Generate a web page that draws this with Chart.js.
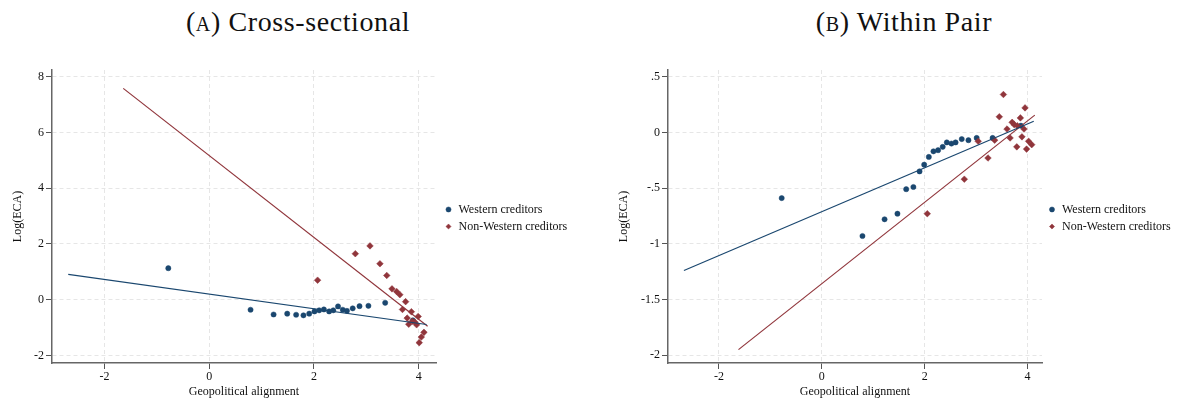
<!DOCTYPE html>
<html>
<head>
<meta charset="utf-8">
<script src="https://cdn.jsdelivr.net/npm/chart.js@4.4.1/dist/chart.umd.min.js"></script>
<style>
  body { margin: 0; background: #fff; width: 1178px; height: 400px; overflow: hidden; position: relative; font-family: "Liberation Serif", serif; }
  .panel { position: absolute; top: 0; width: 589px; height: 400px; }
  .panel canvas { position: absolute; left: 0; top: 0; }
  .title { position: absolute; top: 8px; font-size: 28px; line-height: 28px; letter-spacing: 0.6px; color: #111; white-space: nowrap; transform: translateX(-50%); }
  .sc { font-variant: small-caps; }
</style>
</head>
<body>
<div class="panel" style="left:0">
  <div class="title" style="left:298px">(<span class="sc">a</span>) Cross-sectional</div>
  <canvas id="chartA" width="589" height="400"></canvas>
</div>
<div class="panel" style="left:589px">
  <div class="title" style="left:315px">(<span class="sc">b</span>) Within Pair</div>
  <canvas id="chartB" width="589" height="400"></canvas>
</div>
<script>
// ---- data ----
const seriesNames = ['Western creditors', 'Non-Western creditors'];
const xTicks = [-2, 0, 2, 4];

// (A) Cross-sectional
const westAlignA = [-0.78, 0.79, 1.23, 1.49, 1.66, 1.80, 1.91, 2.01, 2.10, 2.19, 2.29, 2.37, 2.46, 2.55, 2.63, 2.74, 2.87, 3.04, 3.36, 3.89];
const westEcaA   = [1.13, -0.36, -0.53, -0.50, -0.54, -0.56, -0.50, -0.42, -0.38, -0.35, -0.42, -0.38, -0.24, -0.36, -0.40, -0.31, -0.23, -0.22, -0.11, -0.74];
const nonAlignA  = [2.07, 2.79, 3.07, 3.26, 3.39, 3.49, 3.58, 3.64, 3.69, 3.75, 3.78, 3.81, 3.86, 3.88, 3.93, 3.96, 3.99, 4.01, 4.05, 4.10];
const nonEcaA    = [0.70, 1.65, 1.93, 1.29, 0.87, 0.39, 0.29, 0.18, -0.35, -0.07, -0.66, -0.88, -0.43, -0.77, -0.81, -0.90, -0.60, -1.54, -1.34, -1.17];
const westFitXA = [-2.69, 4.15], westFitYA = [0.91, -0.89];
const nonFitXA  = [-1.64, 4.17], nonFitYA  = [7.58, -0.95];
const yTicksA = [-2, 0, 2, 4, 6, 8];

// (B) Within pair
const westAlignB = [-0.78, 0.79, 1.22, 1.47, 1.64, 1.78, 1.90, 1.99, 2.08, 2.17, 2.26, 2.35, 2.43, 2.52, 2.60, 2.72, 2.85, 3.01, 3.32, 3.87];
const westEcaB   = [-0.59, -0.93, -0.78, -0.73, -0.51, -0.49, -0.35, -0.29, -0.22, -0.17, -0.16, -0.13, -0.09, -0.10, -0.09, -0.06, -0.07, -0.05, -0.05, 0.06];
const nonAlignB  = [2.05, 2.77, 3.04, 3.23, 3.36, 3.45, 3.53, 3.60, 3.66, 3.70, 3.74, 3.79, 3.80, 3.86, 3.89, 3.93, 3.95, 3.98, 4.02, 4.08];
const nonEcaB    = [-0.73, -0.42, -0.08, -0.23, -0.07, 0.14, 0.34, 0.03, -0.05, 0.09, 0.07, -0.13, 0.06, 0.13, -0.04, 0.03, 0.22, -0.15, -0.08, -0.11];
const westFitXB = [-2.68, 4.12], westFitYB = [-1.24, 0.10];
const nonFitXB  = [-1.62, 4.14], nonFitYB  = [-1.95, 0.155];
const yTicksB = [-2, -1.5, -1, -0.5, 0, 0.5];

const NAVY = '#1a476f';
const MAROON = '#90353b';
const serif = '"Liberation Serif", "Times New Roman", serif';

function toPoints(xs, ys) {
    return xs.map((x, i) => ({ x: x, y: ys[i] }));
}

// Stata style tick labels: .5, -.5
function stataNum(v) {
    return String(v).replace('0.', '.');
}

// nudge the legend box so it sits where Stata puts it
const legendNudge = {
    id: 'legendNudge',
    afterLayout(chart, args, opts) {
        const lg = chart.legend;
        if (!lg) return;
        lg.left += opts.dx; lg.right += opts.dx;
        lg.top += opts.dy; lg.bottom += opts.dy;
    }
};

function renderPanel(canvasId, p) {
    const ctx = document.getElementById(canvasId).getContext('2d');
    const gridOpts = {
        color: '#e6e6e6',
        tickColor: '#555',
        tickBorderDash: [],
        tickLength: 6,
        tickWidth: 1
    };
    const borderOpts = { display: true, color: '#666', width: 1.5, dash: [4, 3] };
    new Chart(ctx, {
        type: 'scatter',
        data: {
            datasets: [
                { label: seriesNames[0], data: toPoints(p.westX, p.westY), backgroundColor: NAVY, borderColor: NAVY,
                  pointStyle: 'circle', pointRadius: 2.6, borderWidth: 0.5, order: 2 },
                { label: seriesNames[1], data: toPoints(p.nonX, p.nonY), backgroundColor: MAROON, borderColor: MAROON,
                  pointStyle: 'rectRot', pointRadius: 3.3, borderWidth: 0.5, order: 1 },
                { label: 'fitWest', data: toPoints(p.westFitX, p.westFitY), showLine: true, pointRadius: 0,
                  borderColor: NAVY, borderWidth: 1.2, order: 0 },
                { label: 'fitNon', data: toPoints(p.nonFitX, p.nonFitY), showLine: true, pointRadius: 0,
                  borderColor: MAROON, borderWidth: 1.2, order: 0 }
            ]
        },
        plugins: [legendNudge],
        options: {
            responsive: false,
            animation: false,
            devicePixelRatio: 1,
            layout: { padding: { top: 70, left: 0, bottom: 0, right: p.padRight } },
            plugins: {
                tooltip: { enabled: false },
                legendNudge: { dx: p.legendDx, dy: -17 },
                legend: {
                    position: 'right',
                    align: 'center',
                    maxWidth: 130,
                    labels: {
                        usePointStyle: true,
                        boxWidth: 8,
                        boxHeight: 3.6,
                        padding: 5,
                        color: '#111',
                        font: { family: serif, size: 12 },
                        filter: item => item.datasetIndex < 2,
                        sort: (a, b) => a.datasetIndex - b.datasetIndex
                    }
                }
            },
            scales: {
                x: {
                    type: 'linear',
                    min: p.xMin, max: p.xMax,
                    afterBuildTicks: s => { s.ticks = xTicks.map(v => ({ value: v })); },
                    afterFit: s => { s.height = 37; },
                    ticks: { color: '#111', font: { family: serif, size: 12 }, padding: 1, callback: v => stataNum(v) },
                    grid: gridOpts,
                    border: borderOpts,
                    title: { display: true, text: 'Geopolitical alignment', color: '#111',
                             font: { family: serif, size: 12 }, padding: { top: 0, bottom: 1 } }
                },
                y: {
                    type: 'linear',
                    min: p.yMin, max: p.yMax,
                    afterBuildTicks: s => { s.ticks = p.yTicks.map(v => ({ value: v })); },
                    afterFit: s => { s.width = p.yWidth; },
                    ticks: { color: '#111', font: { family: serif, size: 12 }, padding: 2, callback: v => stataNum(v) },
                    grid: gridOpts,
                    border: borderOpts,
                    title: { display: true, text: 'Log(ECA)', color: '#111',
                             font: { family: serif, size: 12 }, padding: { top: p.yTitlePad, bottom: 0 } }
                }
            }
        }
    });
}

renderPanel('chartA', {
    westX: westAlignA, westY: westEcaA, nonX: nonAlignA, nonY: nonEcaA,
    westFitX: westFitXA, westFitY: westFitYA, nonFitX: nonFitXA, nonFitY: nonFitYA,
    xMin: -3.0, xMax: 4.33, yMin: -2.27, yMax: 8.24, yTicks: yTicksA,
    yWidth: 52, yTitlePad: 11, padRight: 23, legendDx: 3.5
});

renderPanel('chartB', {
    westX: westAlignB, westY: westEcaB, nonX: nonAlignB, nonY: nonEcaB,
    westFitX: westFitXB, westFitY: westFitYB, nonFitX: nonFitXB, nonFitY: nonFitYB,
    xMin: -2.99, xMax: 4.28, yMin: -2.07, yMax: 0.56, yTicks: yTicksB,
    yWidth: 79, yTitlePad: 28, padRight: 6, legendDx: 1
});
</script>
</body>
</html>
